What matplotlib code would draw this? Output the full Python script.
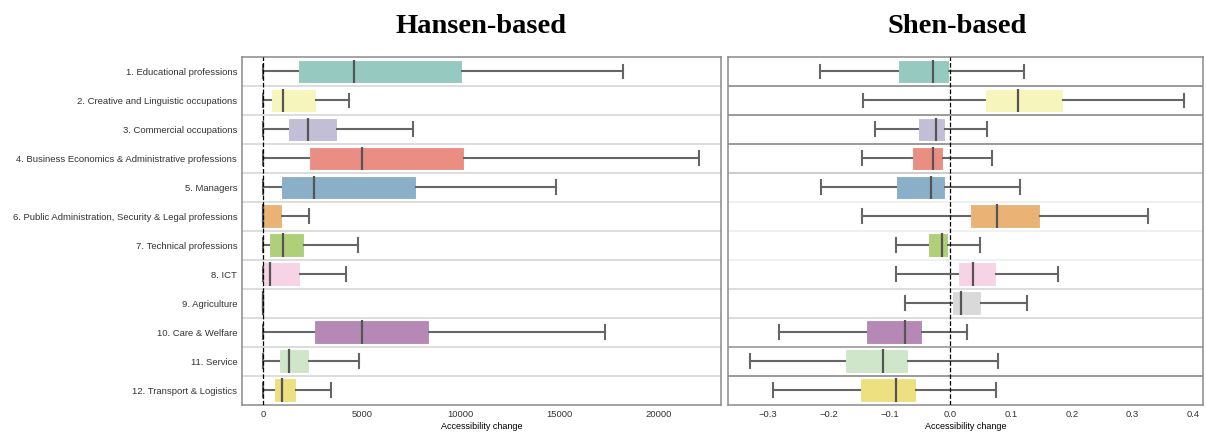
import matplotlib.pyplot as plt
import seaborn as sns

# occupation groups, top to bottom
groups = [
    "1. Educational professions",
    "2. Creative and Linguistic occupations",
    "3. Commercial occupations",
    "4. Business Economics & Administrative professions",
    "5. Managers",
    "6. Public Administration, Security & Legal professions",
    "7. Technical professions",
    "8. ICT",
    "9. Agriculture",
    "10. Care & Welfare",
    "11. Service",
    "12. Transport & Logistics",
]

# Hansen-based accessibility change: whisker low, Q1, median, Q3, whisker high
hansen_lo  = [0, 0, 0, 0, 0, 0, 0, 0, 0, 0, 0, 0]
hansen_q1  = [1750, 390, 1280, 2340, 910, 0, 320, 0, 0, 2560, 790, 560]
hansen_med = [4600, 1030, 2290, 5020, 2560, 0, 1030, 350, 0, 5020, 1330, 940]
hansen_q3  = [10080, 2700, 3740, 10180, 7740, 960, 2070, 1850, 0, 8410, 2340, 1650]
hansen_hi  = [18220, 4370, 7580, 22040, 14800, 2330, 4820, 4200, 0, 17310, 4860, 3440]

# Shen-based accessibility change
shen_lo  = [-0.215, -0.143, -0.124, -0.145, -0.213, -0.145, -0.090, -0.090, -0.074, -0.282, -0.330, -0.292]
shen_q1  = [-0.086, 0.057, -0.053, -0.063, -0.089, 0.033, -0.036, 0.012, 0.003, -0.138, -0.173, -0.149]
shen_med = [-0.028, 0.111, -0.024, -0.028, -0.031, 0.077, -0.014, 0.037, 0.017, -0.075, -0.110, -0.089]
shen_q3  = [-0.002, 0.186, -0.009, -0.012, -0.009, 0.148, -0.004, 0.076, 0.050, -0.046, -0.070, -0.056]
shen_hi  = [0.121, 0.385, 0.060, 0.069, 0.114, 0.326, 0.049, 0.178, 0.126, 0.027, 0.079, 0.076]

colors = sns.color_palette("Set3", 12, desat=0.75)


def make_stats(lo, q1, med, q3, hi):
    stats = []
    for i in range(len(lo)):
        stats.append({"whislo": lo[i], "q1": q1[i], "med": med[i],
                      "q3": q3[i], "whishi": hi[i], "fliers": []})
    return stats


def draw_panel(ax, stats, title, sep_colors, title_x=0.5):
    pos = list(range(len(stats)))
    bp = ax.bxp(stats, positions=pos, vert=False, widths=0.82,
                patch_artist=True, showfliers=False,
                medianprops=dict(color="#555555", linewidth=1.6),
                whiskerprops=dict(color="#666666", linewidth=1.5),
                capprops=dict(color="#666666", linewidth=1.5),
                capwidths=0.48)
    for patch, c in zip(bp["boxes"], colors):
        patch.set_facecolor(c)
        patch.set_edgecolor("white")
        patch.set_linewidth(0.8)

    # row separators
    for k, sc in enumerate(sep_colors):
        ax.axhline(k + 0.5, color=sc, linewidth=1.4, zorder=0)

    ax.axvline(0, color="black", linestyle="--", linewidth=0.9, zorder=5)
    ax.set_ylim(len(stats) - 0.5, -0.5)
    ax.set_xlabel("Accessibility change", fontsize=6.5, labelpad=2)
    ax.tick_params(axis="x", labelsize=6.8, length=0, pad=4, colors="#333333")
    ax.tick_params(axis="y", length=0)
    for s in ax.spines.values():
        s.set_color("#8a8a8a")
        s.set_linewidth(1.1)
    ax.set_title(title, fontsize=20.5, fontweight="bold",
                 family="Liberation Serif", pad=17, x=title_x)


plt.rcParams['font.family'] = ['Liberation Sans', 'DejaVu Sans']

fig = plt.figure(figsize=(12.06, 4.32), dpi=100)
ax1 = fig.add_axes([242 / 1206, 27.3 / 432, 479 / 1206, 347.7 / 432])
ax2 = fig.add_axes([728 / 1206, 27.3 / 432, 475 / 1206, 347.7 / 432])

left_seps = ["#dddddd"] * 11
right_seps = ["#9a9a9a", "#9a9a9a", "#9a9a9a", "#cccccc", "#f0f0f0", "#f0f0f0",
              "#f0f0f0", "#dddddd", "#dddddd", "#a8a8a8", "#9a9a9a"]

draw_panel(ax1, make_stats(hansen_lo, hansen_q1, hansen_med, hansen_q3, hansen_hi),
           "Hansen-based", left_seps)
ax1.set_xlim(-1060, 23150)
ax1.set_xticks([0, 5000, 10000, 15000, 20000])
ax1.set_yticks(range(len(groups)))
ax1.set_yticklabels(groups, fontsize=6.8, color="#333333")

draw_panel(ax2, make_stats(shen_lo, shen_q1, shen_med, shen_q3, shen_hi),
           "Shen-based", right_seps, title_x=0.483)
ax2.set_xlim(-0.366, 0.416)
ax2.set_xticks([-0.3, -0.2, -0.1, 0.0, 0.1, 0.2, 0.3, 0.4])
ax2.set_yticks([])

fig.savefig("out.png", dpi=100)
